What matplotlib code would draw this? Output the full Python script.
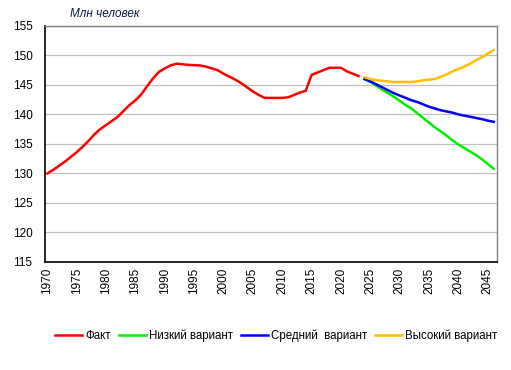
import numpy as np
import matplotlib
matplotlib.use('Agg')
import matplotlib.pyplot as plt

plt.rcParams['font.family'] = ['Liberation Sans', 'DejaVu Sans']

# fact, 1970-2023
fact_years = list(range(1970, 2024))
fact = [130.0, 130.6, 131.3, 132.0, 132.8, 133.6, 134.5, 135.5, 136.6, 137.5,
        138.2, 138.9, 139.6, 140.6, 141.6, 142.4, 143.4, 144.8, 146.1, 147.2,
        147.8, 148.3, 148.6, 148.5, 148.4, 148.35, 148.3, 148.1, 147.8, 147.5,
        146.9, 146.4, 145.9, 145.3, 144.6, 143.9, 143.3, 142.8, 142.8, 142.8,
        142.8, 142.9, 143.3, 143.7, 144.0, 146.7, 147.1, 147.5, 147.9, 147.9,
        147.9, 147.3, 146.9, 146.5]

# projections, 2024-2046
proj_years = list(range(2024, 2047))
low = [146.0, 145.5, 144.9, 144.2, 143.6, 143.0, 142.3, 141.6, 141.0, 140.2,
       139.4, 138.6, 137.8, 137.1, 136.4, 135.6, 134.9, 134.3, 133.7, 133.1,
       132.4, 131.6, 130.8]
mid = [146.0, 145.6, 145.1, 144.6, 144.1, 143.6, 143.2, 142.8, 142.4, 142.1,
       141.7, 141.3, 141.0, 140.7, 140.5, 140.3, 140.0, 139.8, 139.6, 139.4,
       139.2, 138.95, 138.75]
high = [146.3, 146.0, 145.8, 145.7, 145.6, 145.5, 145.5, 145.5, 145.5, 145.6,
        145.8, 145.9, 146.0, 146.4, 146.8, 147.3, 147.7, 148.1, 148.6, 149.2,
        149.7, 150.3, 150.9]

labels = ['Факт', 'Низкий вариант', 'Средний  вариант', 'Высокий вариант']
colors = ['#ff0000', '#00ee00', '#0000ff', '#ffc000']

fig = plt.figure(figsize=(5.11, 3.70), dpi=100)
ax = fig.add_axes([0.088, 0.292, 0.885, 0.638])

ax.plot(fact_years, fact, color=colors[0], lw=1.8, label=labels[0])
ax.plot(proj_years, low, color=colors[1], lw=1.8, label=labels[1])
ax.plot(proj_years, mid, color=colors[2], lw=1.8, label=labels[2])
ax.plot(proj_years, high, color=colors[3], lw=1.8, label=labels[3])

ax.set_xlim(1969.6, 2046.6)
ax.set_ylim(115, 155)
ax.set_yticks(np.arange(115, 156, 5))
ax.set_xticks(np.arange(1970, 2046, 5))
ax.tick_params(axis='x', labelrotation=90, length=0, labelsize=8.5, pad=4)
ax.tick_params(axis='y', length=0, labelsize=8.5, pad=9)
ax.grid(axis='y', color='#c0c0c0', lw=0.9)
ax.set_axisbelow(True)

for s in ['left', 'bottom']:
    ax.spines[s].set_color('black')
    ax.spines[s].set_linewidth(1.2)
for s in ['top', 'right']:
    ax.spines[s].set_color('#808080')
    ax.spines[s].set_linewidth(1.0)

fig.text(0.137, 0.962, 'Млн человек', fontsize=8.5, style='italic',
         color='#0a1a40', ha='left', va='center')

fig.legend(loc='center', bbox_to_anchor=(0.541, 0.092), ncol=4, frameon=False,
           fontsize=8.3, handlelength=2.35, handletextpad=0.25, columnspacing=0.7)

plt.savefig('out.png', dpi=100)
